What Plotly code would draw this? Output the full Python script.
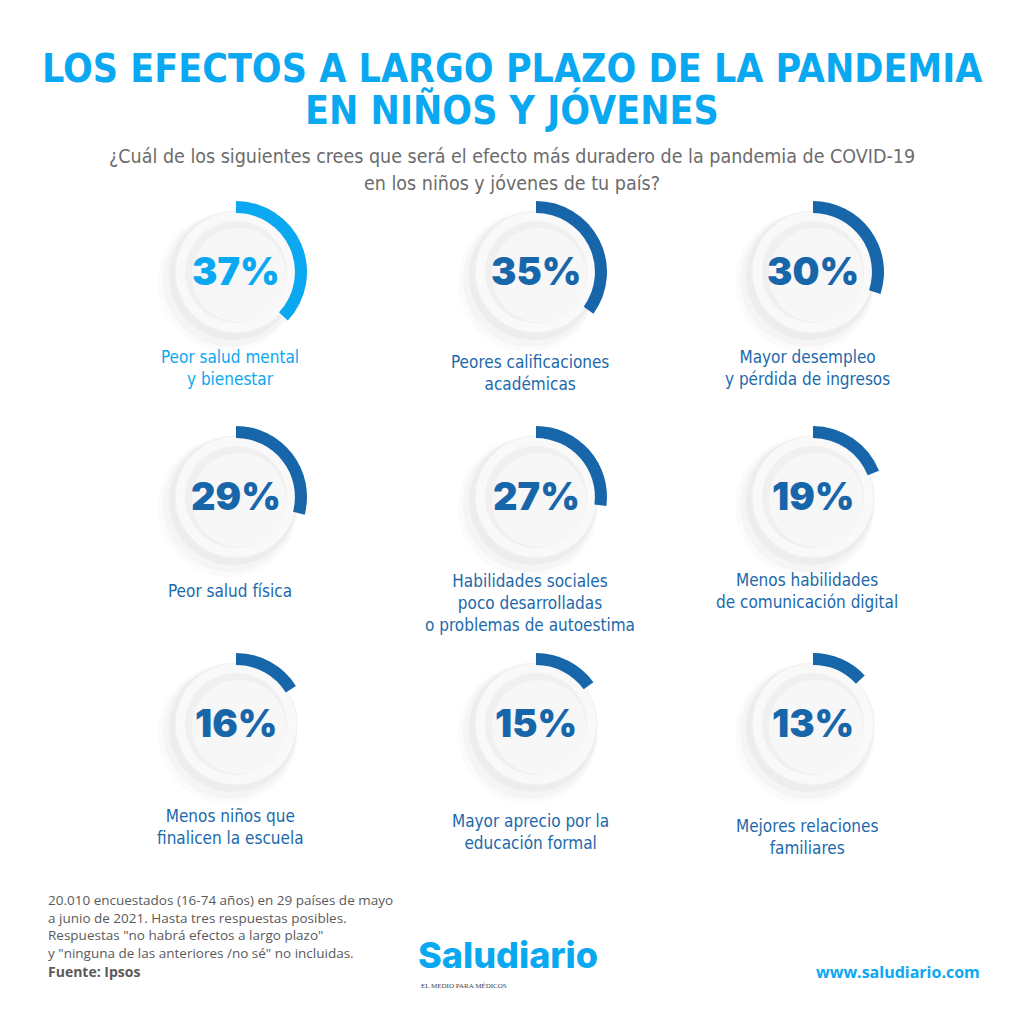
import plotly.graph_objects as go

# ---- data ----
percentages = [37, 35, 30, 29, 27, 19, 16, 15, 13]
labels = [
    "Peor salud mental<br>y bienestar",
    "Peores calificaciones<br>académicas",
    "Mayor desempleo<br>y pérdida de ingresos",
    "Peor salud física",
    "Habilidades sociales<br>poco desarrolladas<br>o problemas de autoestima",
    "Menos habilidades<br>de comunicación digital",
    "Menos niños que<br>finalicen la escuela",
    "Mayor aprecio por la<br>educación formal",
    "Mejores relaciones<br>familiares",
]
title_lines = ["LOS EFECTOS A LARGO PLAZO DE LA PANDEMIA", "EN NIÑOS Y JÓVENES"]
subtitle_lines = ["¿Cuál de los siguientes crees que será el efecto más duradero de la pandemia de COVID-19",
                  "en los niños y jóvenes de tu país?"]
footnote_lines = ["20.010 encuestados (16-74 años) en 29 países de mayo",
                  "a junio de 2021. Hasta tres respuestas posibles.",
                  "Respuestas \"no habrá efectos a largo plazo\"",
                  "y \"ninguna de las anteriores /no sé\" no incluidas."]
source_text = "Fuente: Ipsos"

# ---- layout constants ----
W = H = 1024
col_x = [236, 536, 813]
row_y = [272, 497, 724]
label_y = [[368, 373, 368], [591, 603, 591], [827, 832, 837]]
R_OUT = 71
R_CIRC = 61
BRIGHT = "#0aa8f0"
DARK = "#1866aa"
LABEL_DARK = "#1b69ab"
COND = "Liberation Sans Narrow, DejaVu Sans Condensed, Roboto, sans-serif"

fig = go.Figure()
shapes = []
annotations = []


def px_x(x):
    return x / W


def px_y(y):
    return 1 - y / H


def text(x, y, t, size, color, family=COND, weight=400, xanchor="center"):
    annotations.append(dict(x=px_x(x), y=px_y(y), xref="paper", yref="paper", text=t,
                            showarrow=False, xanchor=xanchor, yanchor="middle", align=xanchor,
                            font=dict(family=family, size=size, weight=weight, color=color)))


for i, p in enumerate(percentages):
    r, c = divmod(i, 3)
    cx, cy = col_x[c], row_y[r]
    color = BRIGHT if i == 0 else DARK
    fig.add_trace(go.Pie(
        values=[p, 100 - p],
        sort=False,
        direction="clockwise",
        rotation=0,
        hole=0.83,
        marker=dict(colors=[color, "rgba(0,0,0,0)"], line=dict(width=0)),
        textinfo="none",
        hoverinfo="skip",
        showlegend=False,
        domain=dict(x=[px_x(cx - R_OUT), px_x(cx + R_OUT)],
                    y=[px_y(cy + R_OUT), px_y(cy - R_OUT)]),
    ))
    # soft shadow (down-left)
    for dx, dy, gr, op in [(-8, 10, 9, 0.015), (-6, 8, 6, 0.025), (-3, 4, 3, 0.03)]:
        rr = R_CIRC + gr
        shapes.append(dict(type="circle", xref="paper", yref="paper", layer="below",
                           x0=px_x(cx + dx - rr), x1=px_x(cx + dx + rr),
                           y0=px_y(cy + dy + rr), y1=px_y(cy + dy - rr),
                           fillcolor=f"rgba(0,0,0,{op})", line=dict(width=0)))
    # outer disc
    shapes.append(dict(type="circle", xref="paper", yref="paper", layer="below",
                       x0=px_x(cx - R_CIRC), x1=px_x(cx + R_CIRC),
                       y0=px_y(cy + R_CIRC), y1=px_y(cy - R_CIRC),
                       fillcolor="#f9f9f9", line=dict(color="#f0f0f0", width=1)))
    # inner disc
    ri = 51
    shapes.append(dict(type="circle", xref="paper", yref="paper", layer="below",
                       x0=px_x(cx - ri), x1=px_x(cx + ri),
                       y0=px_y(cy + ri), y1=px_y(cy - ri),
                       fillcolor="#f0f0f0", line=dict(width=0)))
    ri2 = 47
    shapes.append(dict(type="circle", xref="paper", yref="paper", layer="below",
                       x0=px_x(cx + 3 - ri2), x1=px_x(cx + 3 + ri2),
                       y0=px_y(cy + 3 + ri2), y1=px_y(cy + 3 - ri2),
                       fillcolor="#f7f7f7", line=dict(width=0)))
    # percentage text
    text(cx, cy - 1, f"{p}%", 38, color, family="Inter, Lato, sans-serif", weight=900)
    # label
    text(cx - 6, label_y[r][c], labels[i], 17, BRIGHT if i == 0 else LABEL_DARK)

# title
text(512, 68, title_lines[0], 39, BRIGHT, weight=700)
text(512, 110, title_lines[1], 39, BRIGHT, weight=700)
text(512, 156, subtitle_lines[0], 19.5, "#6b6b6b")
text(512, 183, subtitle_lines[1], 19.5, "#6b6b6b")
# footer
text(46, 926, "<br>".join(footnote_lines), 13.5, "#5a5a5a", family="Open Sans, sans-serif", xanchor="left")
text(46, 971, source_text, 14, "#5a5a5a", family="Open Sans, sans-serif", weight=700, xanchor="left")
text(416, 955, "Saludiario", 36, BRIGHT, family="Inter, Lato, sans-serif", weight=800, xanchor="left")
text(419, 986, "EL MEDIO PARA MÉDICOS", 7, "#444444", family="Liberation Serif, serif", xanchor="left")
text(982, 972, "www.saludiario.com", 16, BRIGHT, family="Open Sans, sans-serif", weight=700, xanchor="right")

fig.update_layout(width=W, height=H, margin=dict(l=0, r=0, t=0, b=0),
                  paper_bgcolor="white", plot_bgcolor="white",
                  shapes=shapes, annotations=annotations)
fig.write_html("out.html", config={"displayModeBar": False},
               post_script="document.body.style.margin='0';")
